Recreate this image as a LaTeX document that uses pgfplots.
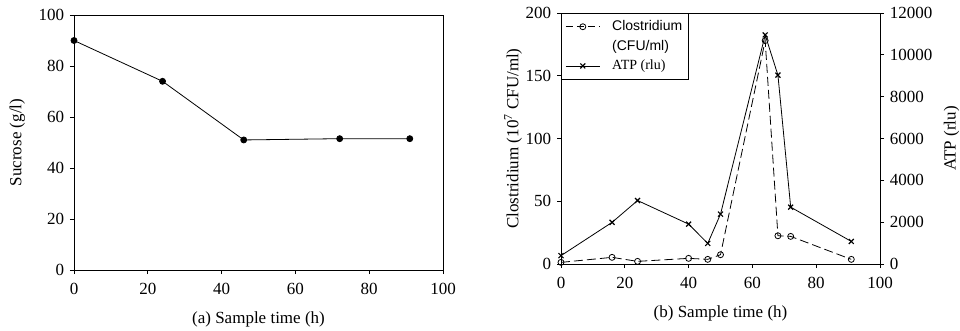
\documentclass[border=0pt]{standalone}
\usepackage{pgfplots}
\pgfplotsset{compat=1.18}
\usepackage{fontspec}
\setmainfont{Liberation Serif}
\setsansfont{Liberation Sans}
\begin{document}
\fontsize{17}{19}\selectfont
\begin{tikzpicture}
\path[use as bounding box] (0,0) rectangle (960pt,-331pt);
\pgfplotsset{
  every axis/.append style={
    scale only axis,
    tick align=outside,
    major tick length=4pt,
    axis line style={black, line width=0.8pt},
    every tick/.style={black, line width=0.8pt},
    /pgf/number format/assume math mode=true,
    /pgf/number format/1000 sep={},
    tick label style={font=\fontsize{17}{19}\selectfont},
    label style={font=\fontsize{17}{19}\selectfont},
    xticklabel style={yshift=-3pt},
  },
}
% Left panel
\begin{axis}[
  at={(74pt,-270pt)}, anchor=south west,
  width=369pt, height=255pt,
  xmin=0, xmax=100, ymin=0, ymax=100,
  xtick={0,20,...,100}, ytick={0,20,...,100},
  xtick pos=bottom, ytick pos=left,
  xlabel={(a) Sample time (h)},
  ylabel={Sucrose (g/l)},
  xlabel style={yshift=-6pt},
  ylabel style={yshift=2pt},
]
\addplot[black, line width=0.8pt, mark=*, mark size=3pt] coordinates {
  (0,90) (24,74) (46,51) (72,51.5) (91,51.5)
};
\end{axis}
% Right panel, left axis
\begin{axis}[
  at={(561pt,-264pt)}, anchor=south west,
  width=319pt, height=251pt,
  xmin=0, xmax=100, ymin=0, ymax=200,
  xtick={0,20,...,100}, ytick={0,50,...,200},
  xtick pos=bottom, ytick pos=left,
  xlabel={(b) Sample time (h)},
  ylabel={Clostridium (10\textsuperscript{7} CFU/ml)},
  xlabel style={yshift=-6pt},
  ylabel style={yshift=-8pt},
]
\addplot[black, line width=0.8pt, dash pattern=on 9pt off 4pt, mark=o, mark size=3pt, mark options={solid, fill=white}] coordinates {
  (0,1.3) (16,5.3) (24,2.1) (40,4.5) (46,3.7) (50,7.4) (64,178) (68,22.5) (72,22) (91,3.7)
};
\end{axis}
% Right panel, right axis
\begin{axis}[
  at={(561pt,-264pt)}, anchor=south west,
  width=319pt, height=251pt,
  xmin=0, xmax=100, ymin=0, ymax=12000,
  axis x line=none,
  axis y line*=right,
  ytick={0,2000,...,12000},
  ylabel={ATP (rlu)},
  scaled y ticks=false,
  legend cell align=left,
  legend style={at={(0,1)}, anchor=north west, draw=black, line width=0.8pt,
    font=\fontsize{14}{19}\selectfont, inner xsep=4pt, inner ysep=5pt, row sep=3pt},
  legend image code/.code={\draw[mark repeat=2, mark phase=2, #1] plot coordinates {(0pt,0pt) (17pt,0pt) (34pt,0pt)}; \path (44pt,0pt);},
]
\addlegendimage{black, line width=0.8pt, dash pattern=on 7pt off 4pt, mark=o, mark size=3pt, mark options={solid, fill=white}}
\addlegendentry{\sffamily Clostridium}
\addlegendimage{legend image code/.code={\path (0pt,0pt) (44pt,0pt);}}
\addlegendentry{\sffamily (CFU/ml)}
\addplot[black, line width=0.8pt, mark=x, mark size=3.5pt, mark options={line width=1.2pt}] coordinates {
  (0,400) (16,1990) (24,3035) (40,1907) (46,986) (50,2384) (64,10950) (68,9030) (72,2718) (91,1080)
};
\addlegendentry{ATP (rlu)}
\end{axis}
\end{tikzpicture}
\end{document}
